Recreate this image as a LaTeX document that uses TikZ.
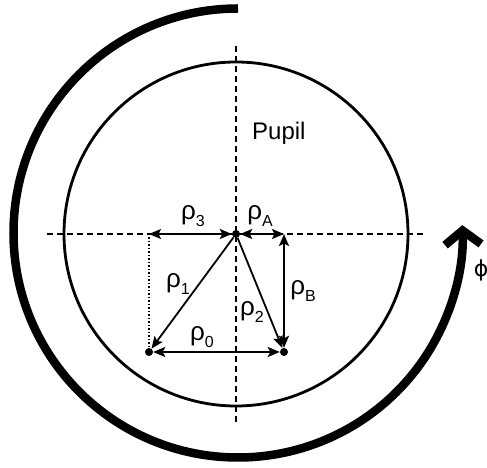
\documentclass[tikz,border=0pt]{standalone}
\usepackage{fontspec}
\setmainfont{Liberation Sans}
\newfontfamily\phifont{DejaVu Sans}
\usetikzlibrary{arrows.meta,positioning}
\newcommand{\rholab}[1]{{\fontsize{26pt}{26pt}\selectfont ρ}\raisebox{-7pt}{\fontsize{16pt}{16pt}\selectfont #1}}

\begin{document}
\begin{tikzpicture}[x=1pt, y=1pt, >={Stealth[length=12pt,width=10pt,inset=2.5pt]},
  dot/.style={circle,fill,inner sep=0pt,minimum size=8pt},
  vec/.style={line width=1.8pt},
  axis/.style={line width=1.6pt,dash pattern=on 6pt off 4pt},
  lab/.style={anchor=base,inner sep=0pt}]
\useasboundingbox (0,0) rectangle (487,468);
\draw[line width=2.8pt] (236,234) circle[radius=172pt];
\draw[axis] (47,234) -- (425,234);
\draw[axis] (236,46) -- (236,422);
\node[dot] (o) at (236,234) {};
\node[dot] (p1) at (149,116) {};
\node[dot] (p2) at (284,116) {};
\coordinate (a) at (284,234);
\coordinate (l) at (149,234);
\draw[line width=1.5pt,dotted] (l) -- (p1);
\draw[vec,<->] (l) -- (o);
\draw[vec,<->] (o) -- (a);
\draw[vec,<->] (a) -- (p2);
\draw[vec,->] (o) -- (p1);
\draw[vec,->] (o) -- (p2);
\draw[vec,<->] (p1) -- (p2);
% phase arrow round the pupil
\draw[line width=8.5pt,-{Straight Barb[length=14pt,width=36pt,sharp]}] (238,459.5) arc[start angle=90,end angle=362,radius=224.5pt];
\node[lab] (t3) at (193,248) {\rholab{3}};
\node[lab] (ta) at (260,248) {\rholab{A}};
\node[lab] (t1) at (178,180) {\rholab{1}};
\node[lab] (t2) at (252,152) {\rholab{2}};
\node[lab] (tb) at (303,173) {\rholab{B}};
\node[lab] (t0) at (202,127) {\rholab{0}};
\node[anchor=base west,inner sep=0pt,font=\fontsize{24pt}{24pt}\selectfont] (pupil) at (252,328) {Pupil};
\node[inner sep=0pt] (phi) at (481,198) {\phifont\fontsize{22pt}{22pt}\selectfont ϕ};
\end{tikzpicture}
\end{document}
